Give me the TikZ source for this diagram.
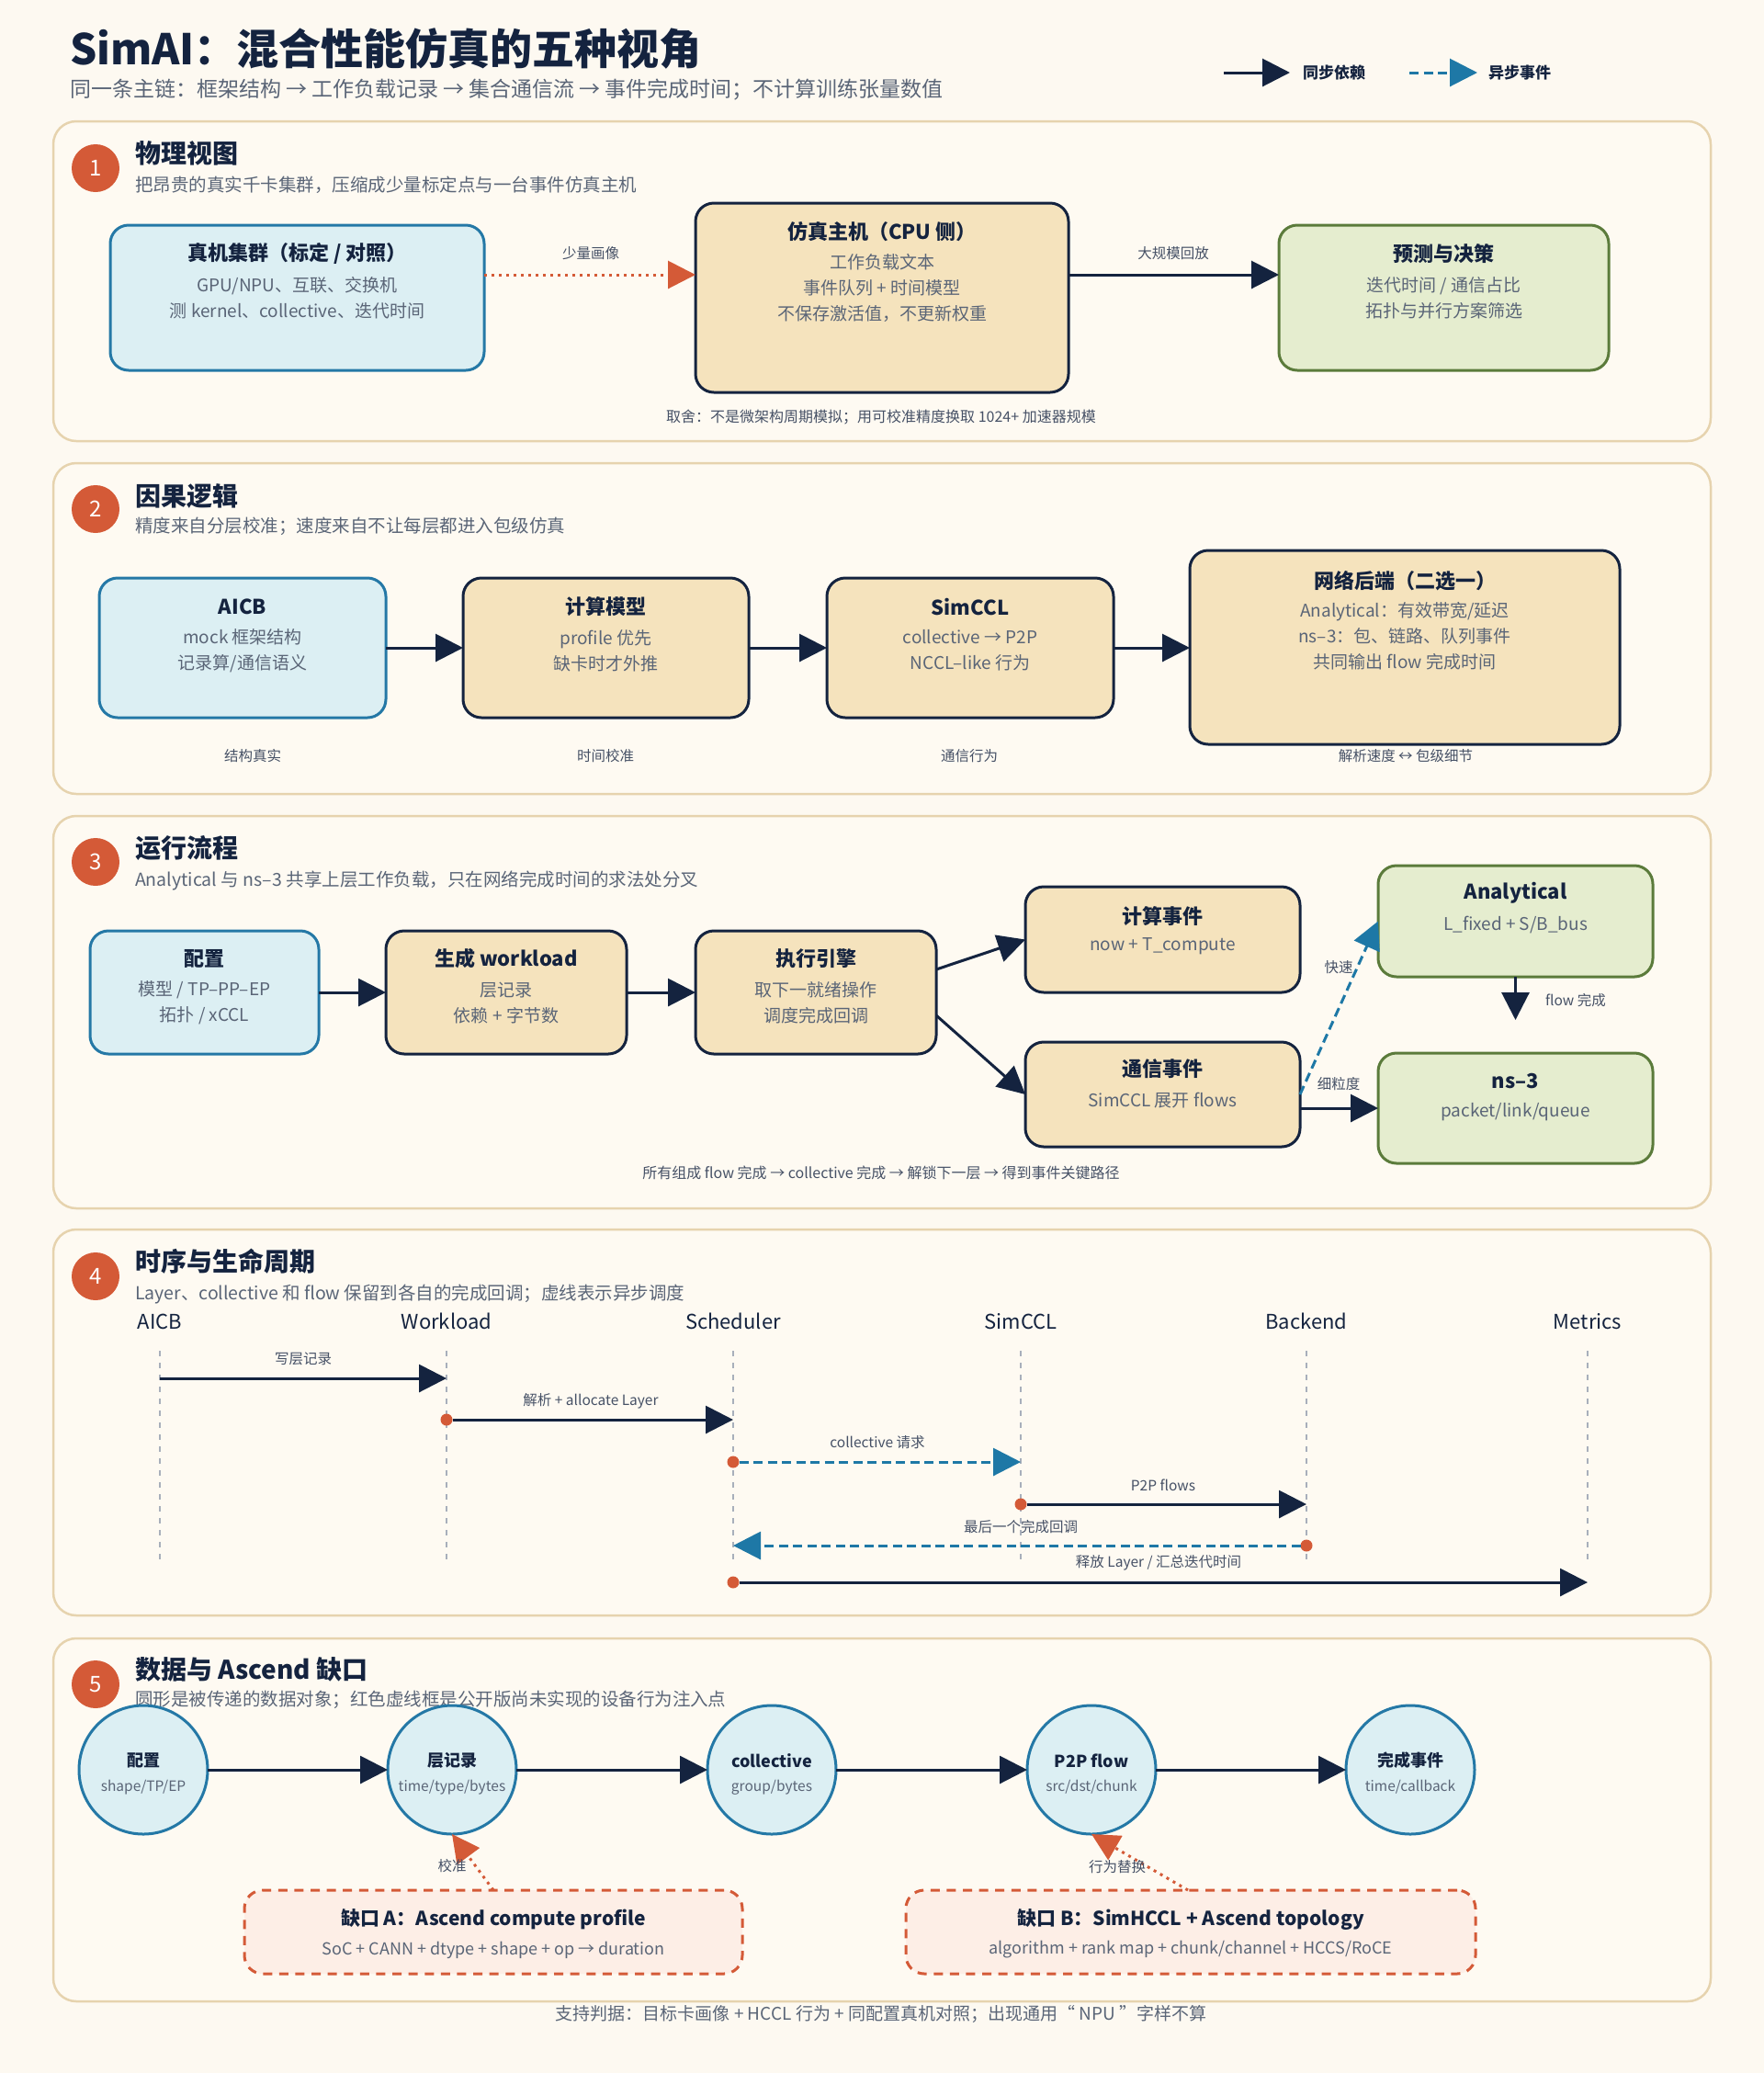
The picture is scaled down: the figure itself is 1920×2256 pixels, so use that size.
\documentclass[tikz,border=0pt]{standalone}
\usepackage{fontspec}
\setmainfont{Noto Sans CJK SC}
\usetikzlibrary{arrows.meta,calc}
\definecolor{navy}{HTML}{14233F}
\definecolor{txtgray}{HTML}{5A6577}
\definecolor{lblgray}{HTML}{465166}
\definecolor{bgc}{HTML}{FDF9F1}
\definecolor{panelc}{HTML}{FEFAF2}
\definecolor{panelb}{HTML}{E6D3AE}
\definecolor{badgec}{HTML}{D45A37}
\definecolor{bluef}{HTML}{DCEFF3}
\definecolor{blueb}{HTML}{2478A6}
\definecolor{tanf}{HTML}{F5E3BD}
\definecolor{greenf}{HTML}{E5EDCF}
\definecolor{greenb}{HTML}{5B7B3B}
\definecolor{pinkf}{HTML}{FDEEE6}
\definecolor{lifec}{HTML}{A8AFBB}
\definecolor{asyncc}{HTML}{1E78A6}
\newcommand\fsz[2]{\fontsize{#1}{#2}\selectfont}
\tikzset{
 tt/.style={font=\bfseries\fsz{23}{28}, text=navy, anchor=west},
 st/.style={font=\fsz{11.5}{14}, text=txtgray, anchor=west},
 hd/.style={font=\bfseries\fsz{14}{17}, text=navy, anchor=west},
 hs/.style={font=\fsz{9.75}{12}, text=txtgray, anchor=west},
 badge/.style={circle, fill=badgec, minimum size=26pt, text=white, font=\fsz{12}{14}},
 panel/.style={fill=panelc, draw=panelb, line width=1.25pt, rounded corners=12.5pt},
 boxb/.style={rectangle, rounded corners=10pt, line width=1.5pt, fill=bluef, draw=blueb},
 boxt/.style={rectangle, rounded corners=10pt, line width=1.5pt, fill=tanf, draw=navy},
 boxg/.style={rectangle, rounded corners=10pt, line width=1.5pt, fill=greenf, draw=greenb},
 gapbox/.style={rectangle, rounded corners=10pt, line width=1.5pt, fill=pinkf, draw=badgec, dash pattern=on 5pt off 3.8pt},
 dobj/.style={circle, minimum size=70pt, fill=bluef, draw=blueb, line width=1.5pt},
 bt/.style={font=\bfseries\fsz{11}{13}, text=navy},
 bb/.style={font=\fsz{9.5}{14}, text=txtgray, align=center},
 lb/.style={font=\fsz{7.75}{9}, text=lblgray},
 nt/.style={font=\fsz{8}{10}, text=lblgray},
 lh/.style={font=\fsz{11}{13}, text=navy},
 ct/.style={font=\bfseries\fsz{9}{11}, text=navy},
 cs/.style={font=\fsz{7.75}{9}, text=txtgray},
 lg/.style={font=\bfseries\fsz{8.5}{10}, text=navy, anchor=west},
 sync/.style={draw=navy, line width=1.5pt, -{Triangle[length=15pt,width=15pt]}},
 async/.style={draw=asyncc, line width=1.5pt, dash pattern=on 5pt off 2.75pt, -{Triangle[length=15pt,width=15pt]}},
 reddot/.style={draw=badgec, line width=1.5pt, dash pattern=on 1.5pt off 2.5pt, -{Triangle[length=15pt,width=15pt]}},
 life/.style={draw=lifec, line width=1pt, dash pattern=on 3pt off 3.5pt},
 dot/.style={circle, fill=badgec, minimum size=6.5pt},
}
\begin{document}
\begin{tikzpicture}[x=0.5pt,y=-0.5pt, every node/.style={inner sep=0pt, outer sep=0pt}]
\useasboundingbox (0,0) rectangle (1920,2256);
\fill[bgc] (0,0) rectangle (1920,2256);

% ---------- title & legend ----------
\node[tt] (title) at (76,53) {SimAI：混合性能仿真的五种视角};
\node[st] (subtitle) at (76,98) {同一条主链：框架结构 → 工作负载记录 → 集合通信流 → 事件完成时间；不计算训练张量数值};
\coordinate (lgA1) at (1332,79); \coordinate (lgA2) at (1404,79);
\draw[sync] (lgA1) -- (lgA2);
\node[lg] (lgT1) at (1418,79) {同步依赖};
\coordinate (lgB1) at (1534,79); \coordinate (lgB2) at (1608,79);
\draw[async] (lgB1) -- (lgB2);
\node[lg] (lgT2) at (1620,79) {异步事件};

% ---------- panels ----------
\draw[panel] (58,132) rectangle (1862,480);
\draw[panel] (58,504) rectangle (1862,864);
\draw[panel] (58,888) rectangle (1862,1315);
\draw[panel] (58,1338) rectangle (1862,1758);
\draw[panel] (58,1783) rectangle (1862,2178);

\node[badge] (bd1) at (104,183) {1};
\node[hd] (h1) at (147,167) {物理视图};
\node[hs] (hs1) at (147,201) {把昂贵的真实千卡集群，压缩成少量标定点与一台事件仿真主机};
\node[badge] (bd2) at (104,554) {2};
\node[hd] (h2) at (147,540) {因果逻辑};
\node[hs] (hs2) at (147,573) {精度来自分层校准；速度来自不让每层都进入包级仿真};
\node[badge] (bd3) at (104,938) {3};
\node[hd] (h3) at (147,923) {运行流程};
\node[hs] (hs3) at (147,958) {Analytical 与 ns–3 共享上层工作负载，只在网络完成时间的求法处分叉};
\node[badge] (bd4) at (104,1389) {4};
\node[hd] (h4) at (147,1373) {时序与生命周期};
\node[hs] (hs4) at (147,1408) {Layer、collective 和 flow 保留到各自的完成回调；虚线表示异步调度};
\node[badge] (bd5) at (104,1833) {5};
\node[hd] (h5) at (147,1817) {数据与 Ascend 缺口};
\node[hs] (hs5) at (147,1850) {圆形是被传递的数据对象；红色虚线框是公开版尚未实现的设备行为注入点};

% ---------- section 1 ----------
\node[boxb, minimum width=203.5pt, minimum height=79pt] (b1) at (323.5,324) {};
\node[boxt, minimum width=203pt, minimum height=103pt] (b2) at (960,324) {};
\node[boxg, minimum width=179.5pt, minimum height=79pt] (b3) at (1571.5,324) {};
\node[bt] (b1t) at (323.5,276) {真机集群（标定 / 对照）};
\node[bb] (b1b) at (323.5,324) {GPU/NPU、互联、交换机\\测 kernel、collective、迭代时间};
\node[bt] (b2t) at (960,252) {仿真主机（CPU 侧）};
\node[bb] (b2b) at (960,313) {工作负载文本\\事件队列 + 时间模型\\不保存激活值，不更新权重};
\node[bt] (b3t) at (1571.5,276) {预测与决策};
\node[bb] (b3b) at (1571.5,324) {迭代时间 / 通信占比\\拓扑与并行方案筛选};
\draw[reddot] ([yshift=12.5pt]b1.east) -- ([yshift=12.5pt]b2.west);
\draw[sync] ([yshift=12.5pt]b2.east) -- ([yshift=12.5pt]b3.west);
\node[lb] (l11) at (643,276) {少量画像};
\node[lb] (l12) at (1277,276) {大规模回放};
\node[nt] (n1) at (959,454) {取舍：不是微架构周期模拟；用可校准精度换取 1024+ 加速器规模};

% ---------- section 2 ----------
\node[boxb, minimum width=156pt, minimum height=76pt] (s2a) at (264,705) {};
\node[boxt, minimum width=155.5pt, minimum height=76pt] (s2b) at (659.5,705) {};
\node[boxt, minimum width=156pt, minimum height=76pt] (s2c) at (1056,705) {};
\node[boxt, minimum width=234pt, minimum height=105.5pt] (s2d) at (1529,704.5) {};
\node[bt] (s2at) at (264,660) {AICB};
\node[bb] (s2ab) at (264,708) {mock 框架结构\\记录算/通信语义};
\node[bt] (s2bt) at (659.5,660) {计算模型};
\node[bb] (s2bb) at (659.5,708) {profile 优先\\缺卡时才外推};
\node[bt] (s2ct) at (1056,660) {SimCCL};
\node[bb] (s2cb) at (1056,708) {collective → P2P\\NCCL–like 行为};
\node[bt] (s2dt) at (1529,632) {网络后端（二选一）};
\node[bb] (s2db) at (1529,692) {Analytical：有效带宽/延迟\\ns–3：包、链路、队列事件\\共同输出 flow 完成时间};
\draw[sync] (s2a) -- (s2b);
\draw[sync] (s2b) -- (s2c);
\draw[sync] (s2c.east) -- (s2c.east -| s2d.west);
\node[lb] (l21) at (275,823) {结构真实};
\node[lb] (l22) at (659,823) {时间校准};
\node[lb] (l23) at (1055,823) {通信行为};
\node[lb] (l24) at (1530,823) {解析速度 ↔ 包级细节};

% ---------- section 3 ----------
\node[boxb, minimum width=124.5pt, minimum height=67pt] (c1) at (222.5,1080) {};
\node[boxt, minimum width=131pt, minimum height=67pt] (c2) at (551,1080) {};
\node[boxt, minimum width=131pt, minimum height=67pt] (c3) at (888,1080) {};
\node[boxt, minimum width=149.5pt, minimum height=57.5pt] (c4) at (1265.5,1022.5) {};
\node[boxt, minimum width=149.5pt, minimum height=57pt] (c5) at (1265.5,1191) {};
\node[boxg, minimum width=149.5pt, minimum height=60.5pt] (c6) at (1649.5,1002.5) {};
\node[boxg, minimum width=149.5pt, minimum height=60pt] (c7) at (1649.5,1206) {};
\node[bt] (c1t) at (222.5,1043) {配置};
\node[bb] (c1b) at (222.5,1091.5) {模型 / TP–PP–EP\\拓扑 / xCCL};
\node[bt] (c2t) at (551,1043) {生成 workload};
\node[bb] (c2b) at (551,1091.5) {层记录\\依赖 + 字节数};
\node[bt] (c3t) at (888,1043) {执行引擎};
\node[bb] (c3b) at (888,1091.5) {取下一就绪操作\\调度完成回调};
\node[bt] (c4t) at (1265.5,997) {计算事件};
\node[bb] (c4b) at (1265.5,1030) {now + T\_compute};
\node[bt] (c5t) at (1265.5,1163) {通信事件};
\node[bb] (c5b) at (1265.5,1198) {SimCCL 展开 flows};
\node[bt] (c6t) at (1649.5,972) {Analytical};
\node[bb] (c6b) at (1649.5,1006) {L\_fixed + S/B\_bus};
\node[bt] (c7t) at (1649.5,1176) {ns–3};
\node[bb] (c7b) at (1649.5,1210) {packet/link/queue};
\draw[sync] (c1) -- (c2);
\draw[sync] (c2) -- (c3);
\draw[sync] ([yshift=12.5pt]c3.east) -- (c4.west);
\draw[sync] ([yshift=-12.5pt]c3.east) -- (c5.west);
\draw[sync] ([yshift=-7.5pt]c5.east) -- (c7.west);
\draw[async] (c5.east) -- (c6.west);
\coordinate (fend) at (1649.5,1110);
\draw[sync] (c6.south) -- (fend);
\node[lb] (l31) at (1457,1053) {快速};
\node[lb] (l32) at (1457,1180) {细粒度};
\node[lb] (l33) at (1715,1089) {flow 完成};
\node[nt] (n3) at (959,1276) {所有组成 flow 完成 → collective 完成 → 解锁下一层 → 得到事件关键路径};

% ---------- section 4 ----------
\node[lh] (hA) at (174,1438) {AICB};
\node[lh] (hW) at (486,1438) {Workload};
\node[lh] (hS) at (798,1438) {Scheduler};
\node[lh] (hC) at (1111,1438) {SimCCL};
\node[lh] (hB) at (1422,1438) {Backend};
\node[lh] (hM) at (1728,1438) {Metrics};
\coordinate (ltop) at (0,1470); \coordinate (lbot) at (0,1701);
\foreach \h in {hA,hW,hS,hC,hB,hM}{\draw[life] (\h |- ltop) -- (\h |- lbot);}
\coordinate (r1) at (0,1500); \coordinate (r2) at (0,1545); \coordinate (r3) at (0,1591);
\coordinate (r4) at (0,1637); \coordinate (r5) at (0,1682); \coordinate (r6) at (0,1722);
\draw[sync] (hA |- r1) -- (hW |- r1);
\node[lb] (m1) at (330,1479) {写层记录};
\node[dot] (d2) at (hW |- r2) {};
\draw[sync] (d2) -- (hS |- r2);
\node[lb] (m2) at (643,1525) {解析 + allocate Layer};
\node[dot] (d3) at (hS |- r3) {};
\draw[async] (d3) -- (hC |- r3);
\node[lb] (m3) at (955,1570) {collective 请求};
\node[dot] (d4) at (hC |- r4) {};
\draw[sync] (d4) -- (hB |- r4);
\node[lb] (m4) at (1266,1616) {P2P flows};
\node[dot] (d5) at (hB |- r5) {};
\draw[async] (d5) -- (hS |- r5);
\node[lb] (m5) at (1111,1662) {最后一个完成回调};
\node[dot] (d6) at (hS |- r6) {};
\draw[sync] (d6) -- (hM |- r6);
\node[lb] (m6) at (1261,1701) {释放 Layer / 汇总迭代时间};

% ---------- section 5 ----------
\node[dobj] (o1) at (156,1926) {};
\node[dobj] (o2) at (492,1926) {};
\node[dobj] (o3) at (840,1926) {};
\node[dobj] (o4) at (1188,1926) {};
\node[dobj] (o5) at (1535,1926) {};
\node[ct] (o1t) at (156,1916) {配置};
\node[cs] (o1s) at (156,1945) {shape/TP/EP};
\node[ct] (o2t) at (492,1916) {层记录};
\node[cs] (o2s) at (492,1945) {time/type/bytes};
\node[ct] (o3t) at (840,1916) {collective};
\node[cs] (o3s) at (840,1945) {group/bytes};
\node[ct] (o4t) at (1188,1916) {P2P flow};
\node[cs] (o4s) at (1188,1945) {src/dst/chunk};
\node[ct] (o5t) at (1535,1916) {完成事件};
\node[cs] (o5s) at (1535,1945) {time/callback};
\draw[sync] (o1) -- (o2);
\draw[sync] (o2) -- (o3);
\draw[sync] (o3) -- (o4);
\draw[sync] (o4) -- (o5);
\node[gapbox, minimum width=271pt, minimum height=45.5pt] (gA) at (537,2102.5) {};
\node[gapbox, minimum width=310pt, minimum height=45.5pt] (gB) at (1296,2102.5) {};
\node[bt, font=\bfseries\fsz{10.5}{12}] (gAt) at (537,2089) {缺口 A：Ascend compute profile};
\node[bb, font=\fsz{9}{11}] (gAb) at (537,2122) {SoC + CANN + dtype + shape + op → duration};
\node[bt, font=\bfseries\fsz{10.5}{12}] (gBt) at (1296,2089) {缺口 B：SimHCCL + Ascend topology};
\node[bb, font=\fsz{9}{11}] (gBb) at (1296,2122) {algorithm + rank map + chunk/channel + HCCS/RoCE};
\draw[reddot] (gA.north) -- (o2.south);
\draw[reddot] ([xshift=-1.5pt]gB.north) -- (o4.south);
\node[lb] (l51) at (492,2031) {校准};
\node[lb] (l52) at (1216,2032) {行为替换};

\node[font=\fsz{9.5}{11}, text=txtgray] (foot) at (959,2192) {支持判据：目标卡画像 + HCCL 行为 + 同配置真机对照；出现通用“ NPU ”字样不算};
\end{tikzpicture}
\end{document}
